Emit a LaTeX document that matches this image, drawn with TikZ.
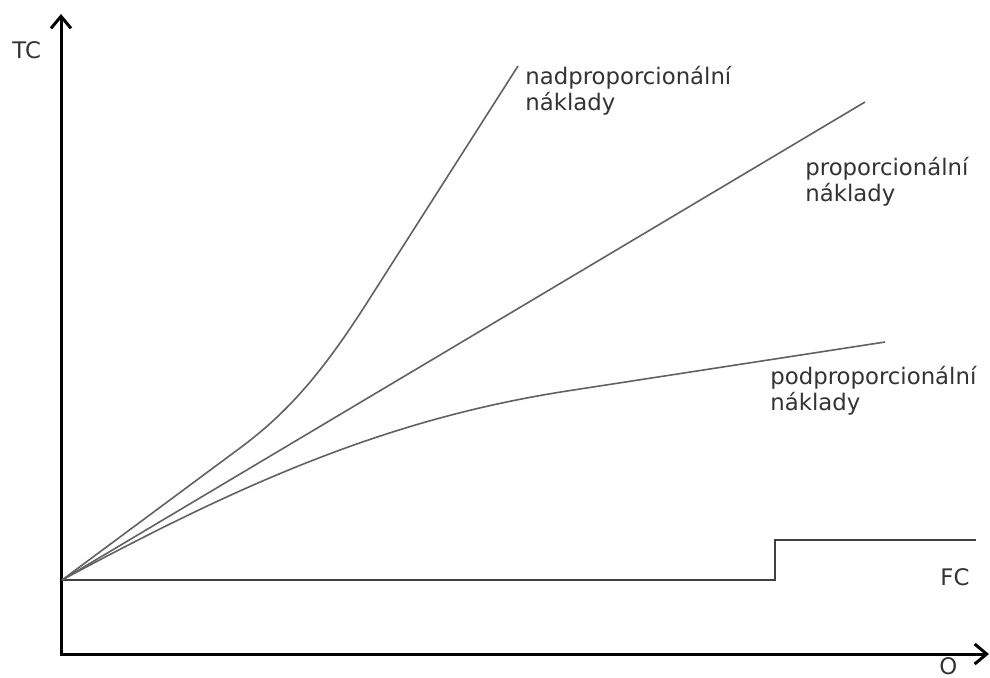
\documentclass[tikz,border=0pt]{standalone}
\usepackage{fontspec}
\setmainfont{DejaVu Sans}
\usetikzlibrary{arrows.meta, positioning}
\definecolor{curvegray}{gray}{0.38}
\definecolor{textgray}{gray}{0.2}
\tikzset{%
	axis/.style={line width=1.5pt, >={Straight Barb[length=6pt, width=10pt, line width=1.5pt]}, <->},
	cost/.style={line width=0.8pt, draw=curvegray},
	fixed/.style={line width=1pt, draw=black!75},
	lbl/.style={inner sep=0pt, anchor=base west, align=left, text=textgray,%
		font=\fontsize{11.4}{12.6}\selectfont}
}
\begin{document}
\begin{tikzpicture}[x=0.5pt, y=-0.5pt]
	\useasboundingbox (0,0) rectangle (990,677);
	\coordinate (ytip) at (61,14);
	\coordinate (corner) at (61,654);
	\coordinate (xtip) at (989,654);
	\coordinate (start) at (62,580);
	\coordinate (step) at (775,580);
	\coordinate (fcend) at (976,540);
	\coordinate (nadbend) at (240,448);
	\coordinate (nadmid) at (370,298);
	\coordinate (nadend) at (518,66);
	\coordinate (propend) at (865,102);
	\coordinate (podmid) at (567,391);
	\coordinate (podend) at (885,342);

	% axes
	\draw [axis] (ytip) -- (corner) -- (xtip);
	\node[lbl] (tc) at (12,58) {TC};
	\node[lbl] (out) at (939,674) {O};

	% fixed costs
	\draw [fixed] (start) -- (step) |- (fcend);
	\node[lbl] (fc) at (940,585) {FC};

	% variable costs
	\draw [cost] (start) -- (nadbend) .. controls (290,411) and (325,369) .. (nadmid) -- (nadend);
	\draw [cost] (start) -- (propend);
	\draw [cost] (start) .. controls (242,483) and (387,419) .. (podmid) -- (podend);

	\node[lbl] (nad) at (525,110) {nadproporcionální\\náklady};
	\node[lbl] (prop) at (805,201) {proporcionální\\náklady};
	\node[lbl] (pod) at (770,410) {podproporcionální\\náklady};
\end{tikzpicture}
\end{document}
